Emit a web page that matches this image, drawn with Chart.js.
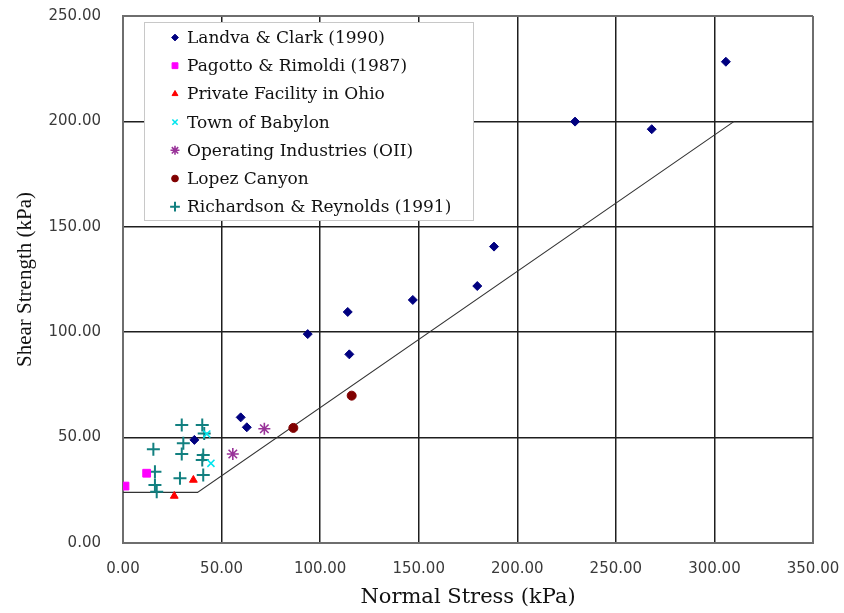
<!DOCTYPE html>
<html>
<head>
<meta charset="utf-8">
<script src="https://cdn.jsdelivr.net/npm/chart.js@4/dist/chart.umd.min.js"></script>
<style>
  html, body { margin: 0; padding: 0; background: #fff; }
  #wrap { width: 844px; height: 613px; position: relative; }
</style>
</head>
<body>
<div id="wrap"><canvas id="shearChart"></canvas></div>
<script>
// series names
const seriesNames = [
  'Landva & Clark (1990)',
  'Pagotto & Rimoldi (1987)',
  'Private Facility in Ohio',
  'Town of Babylon',
  'Operating Industries (OII)',
  'Lopez Canyon',
  'Richardson & Reynolds (1991)'
];

// normal stress (x) / shear strength (y), kPa
const landvaX = [305.8, 229.3, 268.2, 188.2, 179.7, 147.0, 114.0, 114.8, 93.7, 59.7, 62.8, 36.2];
const landvaY = [228.3, 199.9, 196.3, 140.6, 121.9, 115.3, 109.6, 89.5, 99.1, 59.6, 54.9, 48.9];
const pagottoX = [1.0, 12.0];
const pagottoY = [27.0, 33.1];
const ohioX = [35.7, 26.0];
const ohioY = [29.9, 22.3];
const babylonX = [44.6, 42.5];
const babylonY = [37.8, 51.7];
const oiiX = [71.7, 55.7];
const oiiY = [54.2, 42.2];
const lopezX = [116.0, 86.4];
const lopezY = [69.9, 54.6];
const richX = [29.8, 40.2, 15.4, 30.6, 29.8, 40.7, 41.2, 40.2, 16.2, 28.9, 40.7, 16.2, 17.1];
const richY = [56.0, 56.0, 44.5, 47.3, 42.2, 41.7, 52.0, 39.4, 33.8, 30.7, 32.3, 27.5, 24.3];

// design envelope
const envelopeX = [0, 37.8, 310];
const envelopeY = [24, 24, 200];

// axes
const xTicks = [0, 50, 100, 150, 200, 250, 300, 350];
const yTicks = [0, 50, 100, 150, 200, 250];

const pts = (xs, ys) => xs.map((x, i) => ({ x, y: ys[i] }));

const styles = [
  { color: '#000080', pointStyle: 'rectRot', radius: 4.5, border: 1 },
  { color: '#ff00ff', pointStyle: 'rect', radius: 5.5, border: 1 },
  { color: '#ff0000', pointStyle: 'triangle', radius: 4.5, border: 1 },
  { color: '#00e5ee', pointStyle: 'crossRot', radius: 5, border: 1.6 },
  { color: '#993399', pointStyle: 'star', radius: 6, border: 1.6 },
  { color: '#800000', pointStyle: 'circle', radius: 4.5, border: 1 },
  { color: '#128080', pointStyle: 'cross', radius: 6.5, border: 2 }
];
const series = [
  pts(landvaX, landvaY), pts(pagottoX, pagottoY), pts(ohioX, ohioY),
  pts(babylonX, babylonY), pts(oiiX, oiiY), pts(lopezX, lopezY), pts(richX, richY)
];

const datasets = series.map((data, i) => ({
  type: 'scatter',
  label: seriesNames[i],
  data,
  pointStyle: styles[i].pointStyle,
  pointRadius: styles[i].radius,
  pointHoverRadius: styles[i].radius,
  pointBackgroundColor: styles[i].color,
  pointBorderColor: styles[i].color,
  pointBorderWidth: styles[i].border,
  order: i
}));
datasets.push({
  type: 'line',
  label: 'envelope',
  data: pts(envelopeX, envelopeY),
  borderColor: '#333',
  borderWidth: 1.1,
  pointRadius: 0,
  tension: 0,
  fill: false,
  order: 100
});

// legend drawn inside the plot, opaque box like the original
const insideLegend = {
  id: 'insideLegend',
  afterDraw(chart) {
    const ctx = chart.ctx;
    const box = { x: 144.5, y: 22.5, w: 329, h: 198 };
    ctx.save();
    ctx.fillStyle = '#fff';
    ctx.strokeStyle = '#c8c8c8';
    ctx.lineWidth = 1;
    ctx.fillRect(box.x, box.y, box.w, box.h);
    ctx.strokeRect(box.x, box.y, box.w, box.h);
    ctx.font = '17px "DejaVu Serif"';
    ctx.textBaseline = 'middle';
    ctx.textAlign = 'left';
    seriesNames.forEach((name, i) => {
      const y = 37.5 + i * 28.2;
      const s = styles[i];
      ctx.fillStyle = s.color;
      ctx.strokeStyle = s.color;
      ctx.lineWidth = s.border;
      Chart.helpers.drawPoint(ctx, {
        pointStyle: s.pointStyle, radius: s.radius * 0.75, rotation: 0, borderWidth: s.border
      }, 175, y);
      ctx.fillStyle = '#111';
      ctx.fillText(name, 187, y + 1);
    });
    ctx.restore();
  }
};

const edge = '#6e6e6e';
const gridColor = (max) => (c) => (c.tick && (c.tick.value === 0 || c.tick.value === max)) ? edge : '#1e1e1e';
const gridWidth = (max) => (c) => (c.tick && (c.tick.value === 0 || c.tick.value === max)) ? 2 : 1.5;

new Chart(document.getElementById('shearChart'), {
  data: { datasets },
  plugins: [insideLegend],
  options: {
    responsive: true,
    maintainAspectRatio: false,
    animation: false,
    layout: { padding: { top: 16, right: 31, bottom: 0, left: 0 } },
    plugins: { legend: { display: false }, tooltip: { enabled: false } },
    scales: {
      x: {
        type: 'linear',
        min: 0, max: 350,
        afterBuildTicks: (s) => { s.ticks = xTicks.map(v => ({ value: v })); },
        afterFit: (s) => { s.height = 70; s.paddingLeft = 0; s.paddingRight = 0; },
        ticks: {
          color: '#3a3a3a', padding: 17,
          font: { family: 'DejaVu Sans', size: 15 },
          callback: (v) => Number(v).toFixed(2),
          maxRotation: 0
        },
        grid: { color: gridColor(350), lineWidth: gridWidth(350), drawTicks: false },
        border: { color: edge, width: 2 },
        title: {
          display: true, text: 'Normal Stress (kPa)', color: '#111',
          font: { family: 'DejaVu Serif', size: 21, lineHeight: 1.2 },
          padding: { top: 0, bottom: 3 }
        }
      },
      y: {
        type: 'linear',
        min: 0, max: 250,
        afterBuildTicks: (s) => { s.ticks = yTicks.map(v => ({ value: v })); },
        afterFit: (s) => { s.width = 123; s.paddingTop = 0; s.paddingBottom = 0; },
        ticks: {
          color: '#3a3a3a', padding: 22,
          font: { family: 'DejaVu Sans', size: 15 },
          callback: (v) => Number(v).toFixed(2)
        },
        grid: { color: gridColor(250), lineWidth: gridWidth(250), drawTicks: false },
        border: { color: edge, width: 2 },
        title: {
          display: true, text: 'Shear Strength (kPa)', color: '#111',
          font: { family: 'Liberation Serif', size: 21, lineHeight: 1.2 },
          padding: { top: 13, bottom: 0 }
        }
      }
    }
  }
});
</script>
</body>
</html>
